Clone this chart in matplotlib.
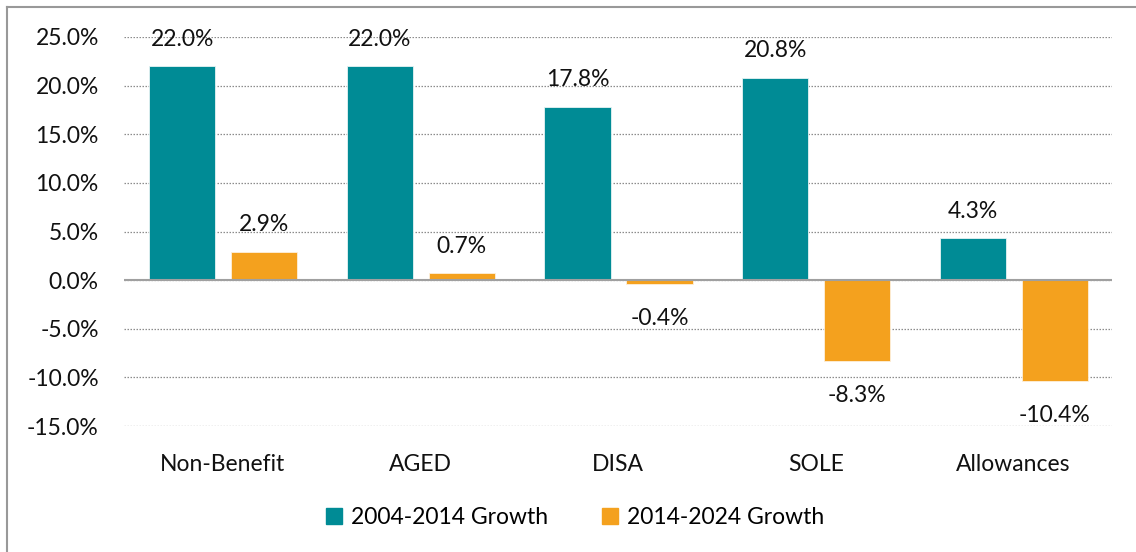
import numpy as np
import matplotlib.pyplot as plt
from matplotlib.lines import Line2D

categories = ["Non-Benefit", "AGED", "DISA", "SOLE", "Allowances"]
growth_2004_2014 = [22.0, 22.0, 17.8, 20.8, 4.3]
growth_2014_2024 = [2.9, 0.7, -0.4, -8.3, -10.4]
series_names = ["2004-2014 Growth", "2014-2024 Growth"]

teal = "#008B95"
orange = "#F4A11E"

plt.rcParams["font.family"] = ["Lato", "DejaVu Sans"]
fs = 16.5

fig = plt.figure(figsize=(11.36, 5.52), dpi=100)
ax = fig.add_axes([0.109, 0.228, 0.870, 0.705])

x = np.arange(len(categories))
w = 0.335
b1 = ax.bar(x - 0.205, growth_2004_2014, w, color=teal, edgecolor="#e6f3f4", linewidth=0.6, zorder=3)
b2 = ax.bar(x + 0.210, growth_2014_2024, w, color=orange, edgecolor="#fdf0dc", linewidth=0.6, zorder=3)

for bars in (b1, b2):
    for r in bars:
        v = r.get_height()
        cx = r.get_x() + r.get_width() / 2
        if v >= 0:
            ax.annotate(f"{v:.1f}%", (cx, v), xytext=(0, 12), textcoords="offset points",
                        ha="center", va="bottom", fontsize=fs, color="#111111", zorder=4)
        else:
            ax.annotate(f"{v:.1f}%", (cx, v), xytext=(0, -17), textcoords="offset points",
                        ha="center", va="top", fontsize=fs, color="#111111", zorder=4)

ax.set_xlim(-0.5, len(categories) - 0.5)
ax.set_ylim(-15, 25)
ax.set_yticks(np.arange(-15, 26, 5))
ax.set_yticklabels([f"{t:.1f}%" for t in np.arange(-15, 26, 5)])
ax.set_xticks(x)
ax.set_xticklabels(categories)
ax.tick_params(axis="both", length=0, labelsize=fs, colors="#111111")
ax.tick_params(axis="y", pad=18)
ax.tick_params(axis="x", pad=20)

ax.yaxis.grid(True, linestyle=(0, (1.2, 1.2)), color="#8c8c8c", linewidth=0.9, zorder=0)
ax.axhline(0, color="#a0a0a0", linewidth=1.5, zorder=4)
for s in ax.spines.values():
    s.set_visible(False)

handles = [Line2D([], [], marker="s", linestyle="none", markersize=11, color=teal),
           Line2D([], [], marker="s", linestyle="none", markersize=11, color=orange)]
fig.legend(handles, series_names, loc="center", bbox_to_anchor=(0.505, 0.063), ncol=2,
           frameon=False, fontsize=fs, handletextpad=0.25, columnspacing=2.2, handlelength=1.0)

# outer border (only left and top visible in the reference crop)
fig.add_artist(Line2D([7 / 1136, 7 / 1136], [0, 1 - 7 / 552], transform=fig.transFigure, color="#999999", linewidth=1.5))
fig.add_artist(Line2D([7 / 1136, 1], [1 - 7 / 552, 1 - 7 / 552], transform=fig.transFigure, color="#999999", linewidth=1.5))

fig.savefig("out.png", dpi=100)
